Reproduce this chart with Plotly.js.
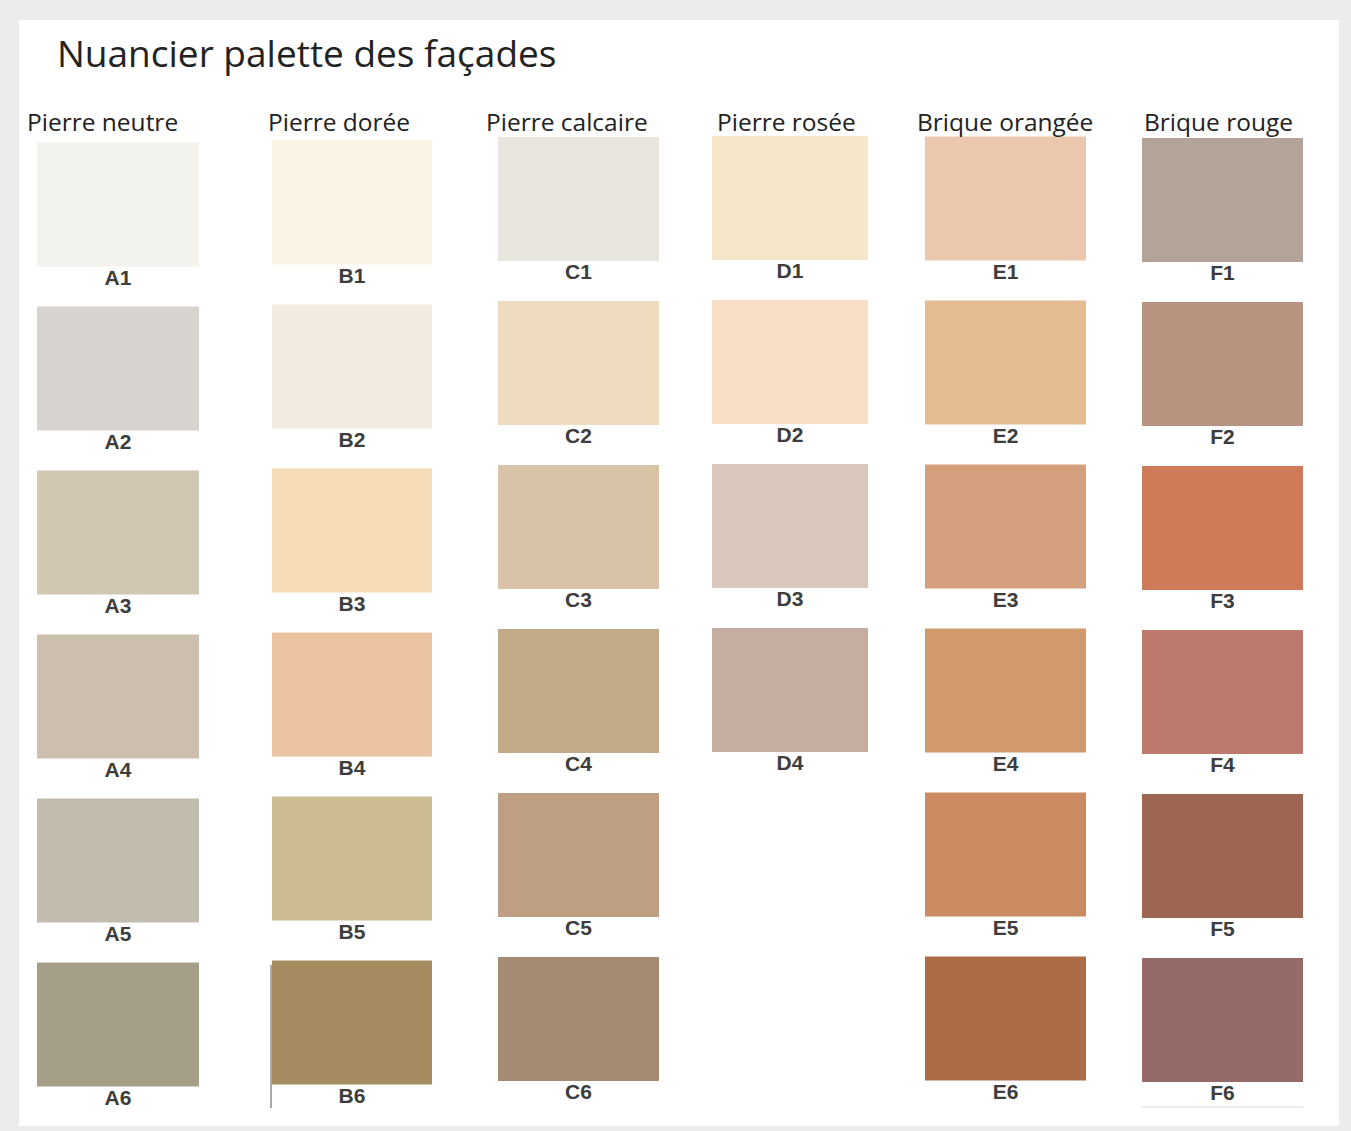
<!DOCTYPE html>
<html><head><meta charset="utf-8">
<script src="https://cdn.plot.ly/plotly-3.0.1.min.js"></script>
<style>html,body{margin:0;padding:0;background:#ebeced;}</style>
</head><body><div id="chart" style="width:1351px;height:1131px;"></div>
<script>
// ---- data ----
const chartTitle = 'Nuancier palette des façades';
const groupNames = ['Pierre neutre', 'Pierre dorée', 'Pierre calcaire', 'Pierre rosée', 'Brique orangée', 'Brique rouge'];
const codesA = ['A1', 'A2', 'A3', 'A4', 'A5', 'A6'];
const codesB = ['B1', 'B2', 'B3', 'B4', 'B5', 'B6'];
const codesC = ['C1', 'C2', 'C3', 'C4', 'C5', 'C6'];
const codesD = ['D1', 'D2', 'D3', 'D4'];
const codesE = ['E1', 'E2', 'E3', 'E4', 'E5', 'E6'];
const codesF = ['F1', 'F2', 'F3', 'F4', 'F5', 'F6'];
const colorsA = ['#f3f2ec', '#d7d4cf', '#d1c8b4', '#cdbfad', '#c2bcae', '#a69f88'];
const colorsB = ['#fbf3e3', '#f1ebe0', '#f6dcb6', '#ebc3a0', '#cdbc91', '#a68a60'];
const colorsC = ['#e8e6df', '#efdbbd', '#d8c3a7', '#c1aa88', '#bf9f84', '#a38c73'];
const colorsD = ['#f8e6cb', '#f8dfc6', '#dbc7bc', '#c5ada2'];
const colorsE = ['#ebc7ad', '#e5bb93', '#d39f7d', '#d09a6d', '#cc8a62', '#ad6c45'];
const colorsF = ['#b4a398', '#b89380', '#cf7a58', '#bd7a6c', '#9e6753', '#966a66'];

const codes = [codesA, codesB, codesC, codesD, codesE, codesF];
const colors = [colorsA, colorsB, colorsC, colorsD, colorsE, colorsF];

// ---- layout constants (pixels) ----
const W = 1351, H = 1131;
const colPx = [[37, 199], [272, 432], [498, 659], [712, 868], [925, 1086], [1142, 1303]];
const firstRowPx = [204.5, 202.5, 199, 198, 198.5, 200];
const rowStep = 164, swH = 124, labelOff = 75;
const headerPx = [102, 339, 567, 786, 1005, 1218];
const headerY = 121;

const traces = [];
const layout = {
  width: W, height: H, autosize: false,
  margin: {l: 0, r: 0, t: 0, b: 0, pad: 0},
  paper_bgcolor: '#ebeced',
  plot_bgcolor: 'rgba(0,0,0,0)',
  showlegend: false,
  title: {
    text: chartTitle, x: 57 / W, xanchor: 'left', xref: 'container',
    y: 1 - 54 / H, yanchor: 'middle', yref: 'container',
    font: {family: 'Open Sans', size: 37, color: '#222222'}
  },
  shapes: [
    {type: 'rect', xref: 'paper', yref: 'paper', x0: 19 / W, x1: 1339 / W, y0: 1 - 1126 / H, y1: 1 - 20 / H,
     fillcolor: '#ffffff', line: {width: 0}, layer: 'below'},
    {type: 'line', xref: 'paper', yref: 'paper', x0: 271 / W, x1: 271 / W, y0: 1 - 1108 / H, y1: 1 - 965 / H,
     line: {color: '#555555', width: 1}, layer: 'above'},
    {type: 'line', xref: 'paper', yref: 'paper', x0: 1142 / W, x1: 1303 / W, y0: 1 - 1107 / H, y1: 1 - 1107 / H,
     line: {color: '#dddddd', width: 1}, layer: 'above'}
  ],
  annotations: []
};

codes.forEach((cc, i) => {
  const ax = i === 0 ? '' : String(i + 1);
  const rows = cc.map((_, r) => r);
  const h = swH / rowStep;
  traces.push({
    type: 'bar', x: rows.map(() => 0), y: rows.map(() => h), base: rows.map(r => r - h / 2),
    width: 1, marker: {color: colors[i], line: {width: 0}},
    xaxis: 'x' + ax, yaxis: 'y' + ax, hoverinfo: 'skip', showlegend: false
  });
  traces.push({
    type: 'scatter', mode: 'text', x: rows.map(() => 0), y: rows.map(r => r + labelOff / rowStep),
    text: cc, textposition: 'middle center', cliponaxis: false,
    textfont: {family: 'Liberation Sans', size: 21, weight: 700, color: '#3d3d3d'},
    xaxis: 'x' + ax, yaxis: 'y' + ax, hoverinfo: 'skip', showlegend: false
  });
  const c0 = firstRowPx[i];
  layout['xaxis' + ax] = {domain: [colPx[i][0] / W, colPx[i][1] / W], range: [-0.5, 0.5],
    visible: false, fixedrange: true, anchor: 'y' + ax};
  layout['yaxis' + ax] = {domain: [0, 1], range: [(H - c0) / rowStep, -c0 / rowStep],
    visible: false, fixedrange: true, anchor: 'x' + ax};
  layout.annotations.push({
    text: groupNames[i], xref: 'paper', yref: 'paper', x: headerPx[i] / W, y: 1 - headerY / H,
    xanchor: 'center', yanchor: 'middle', showarrow: false,
    font: {family: 'Open Sans', size: 24.5, color: '#222222'}
  });
});

Plotly.newPlot('chart', traces, layout, {staticPlot: true, displayModeBar: false});
</script>
</body></html>
